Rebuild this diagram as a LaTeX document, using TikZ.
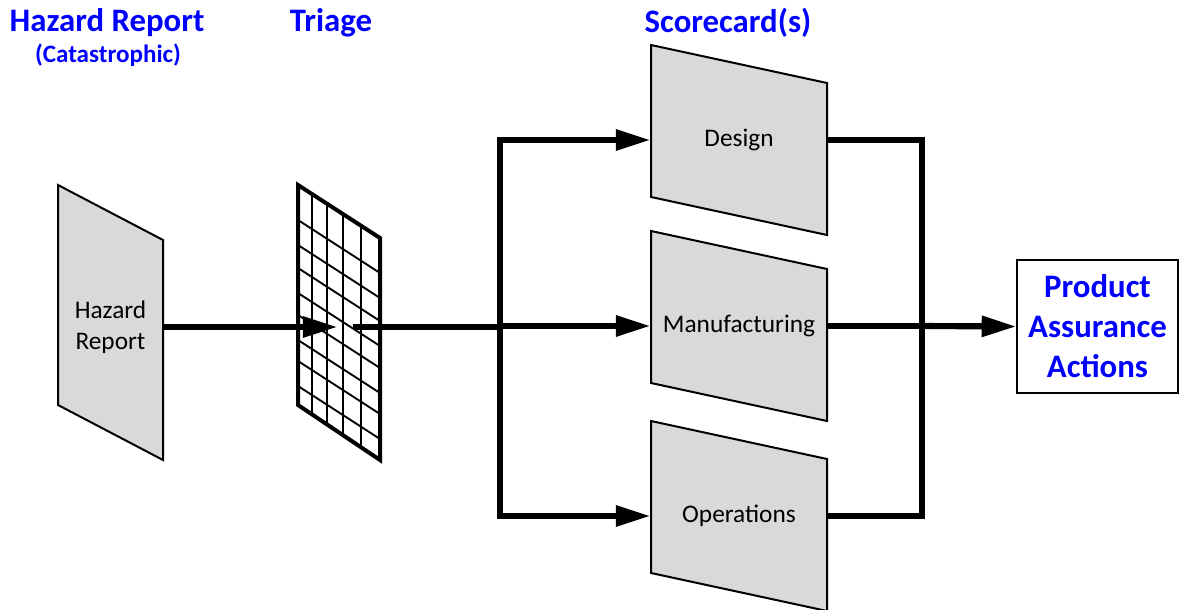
\documentclass[tikz,border=0pt]{standalone}
\usepackage{fontspec}
\setmainfont{Carlito}
\usetikzlibrary{arrows.meta}

\definecolor{titleblue}{RGB}{0,0,255}
\definecolor{cardgray}{RGB}{217,217,217}

\tikzset{every picture/.style={line width=0.75pt}}

\begin{document}
\begin{tikzpicture}[x=0.75pt,y=0.75pt,yscale=-1,xscale=1,
  card/.style={draw=black, fill=cardgray, line width=1.5pt, line join=miter},
  cardtext/.style={inner sep=0pt, minimum height=20pt, align=center, font=\fontsize{19}{23}\selectfont},
  title/.style={inner sep=0pt, anchor=base, text=titleblue, font=\bfseries\fontsize{24.6}{29}\selectfont},
  subtitle/.style={inner sep=0pt, anchor=base, text=titleblue, font=\bfseries\fontsize{18.8}{22}\selectfont},
  flow/.style={line width=4.6pt},
  flowarrow/.style={flow, -{Triangle[length=26pt,width=15pt]}},
]
\useasboundingbox (0,0) rectangle (1179,610);

% Titles
\node[title] (hazardtitle) at (107,32) {Hazard Report};
\node[subtitle] (catastitle) at (108,63) {(Catastrophic)};
\node[title] (triagetitle) at (331,32) {Triage};
\node[title] (scoretitle) at (728,33) {Scorecard(s)};

% Hazard report card
\draw[card] (58,185) -- (163,240) -- (163,460) -- (58,405) -- cycle;
\node[cardtext, minimum width=78.75pt] (hazard) at (110.5,327) {Hazard\\Report};

% Triage grid
\fill[white] (298,185) -- (380,238) -- (380,460) -- (298,405) -- cycle;
\foreach \x in {312,327,343,361}
  \draw[line width=1.4pt] (\x,{185+(\x-298)*0.646}) -- (\x,{405+(\x-298)*0.646});
\foreach \y in {220,245,268,293,315,340,361,386}
  \draw[line width=1.4pt] (298,\y) -- (380,\y+53);
\draw[line width=3pt, line join=miter] (298,185) -- (380,238) -- (380,460) -- (298,405) -- cycle;
\node[inner sep=0pt, minimum width=10.5pt, minimum height=4pt] (triage) at (345,327) {};

% Scorecards
\foreach \c/\name/\txt in {140/design/Design, 326/manuf/Manufacturing, 516/oper/Operations} {
  \draw[card] (651,\c-95) -- (827,\c-57) -- (827,\c+95) -- (651,\c+57) -- cycle;
  \node[cardtext, minimum width=132pt] (\name) at (739,\c) {\txt};
}

% Product assurance box
\node[draw, line width=1.2pt, minimum width=120.5pt, minimum height=100pt, inner sep=0pt,
  align=center, text=titleblue, font=\bfseries\fontsize{24.6}{30}\selectfont] (actions) at (1097.5,326.5) {Product\\Assurance\\Actions};

% Connections
\coordinate (split) at (500,326);
\coordinate (merge) at (922,326);
\draw[flowarrow] (hazard.east) -- (triage.west);
\draw[flow] (triage.east) -- (triage.east -| split);
\draw[flowarrow] (split) |- (design.west);
\draw[flowarrow] (split) -- (manuf.west);
\draw[flowarrow] (split) |- (oper.west);
\draw[flow] (design.east) -| (merge);
\draw[flow] (manuf.east) -- (merge);
\draw[flow] (oper.east) -| (merge);
\draw[flowarrow] (merge) -- (actions.west);

\end{tikzpicture}
\end{document}
